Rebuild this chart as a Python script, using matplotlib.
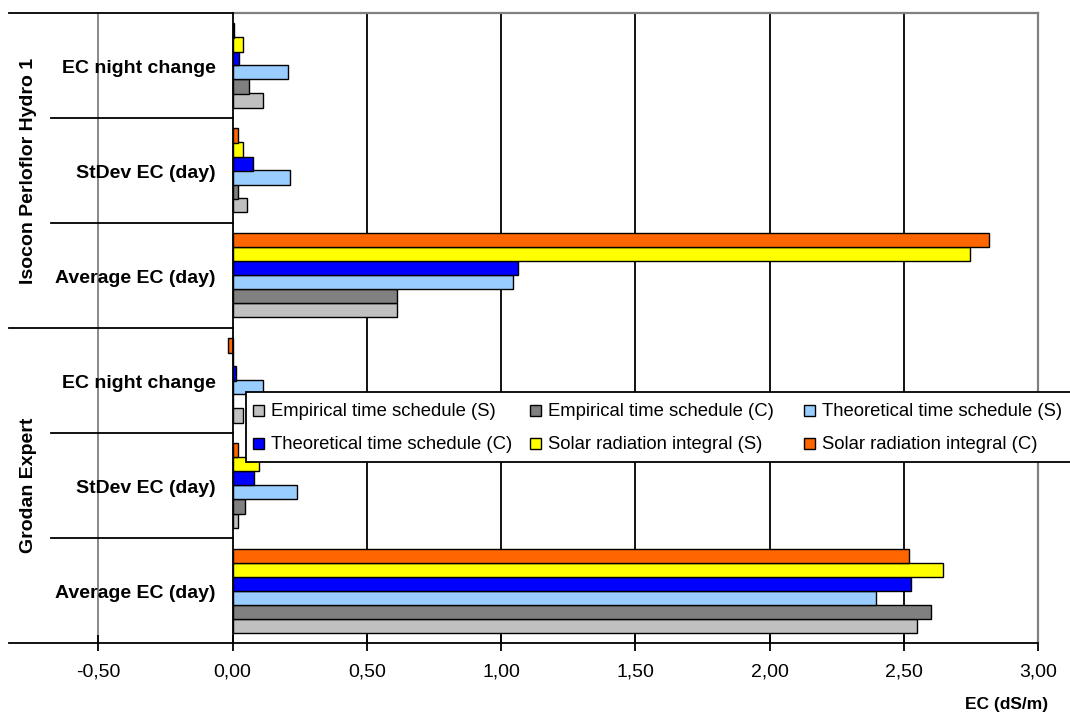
import matplotlib
matplotlib.use("Agg")
import matplotlib.pyplot as plt
from matplotlib.ticker import FuncFormatter
from matplotlib.patches import Rectangle
import numpy as np

plt.rcParams['font.family'] = ['Liberation Sans', 'DejaVu Sans']

# ---------------- data ----------------
groups = ["Isocon Perloflor Hydro 1", "Grodan Expert"]
measures = ["EC night change", "StDev EC (day)", "Average EC (day)"]  # top to bottom in each group

series_names = ["Empirical time schedule (S)", "Empirical time schedule (C)",
                "Theoretical time schedule (S)", "Theoretical time schedule (C)",
                "Solar radiation integral (S)", "Solar radiation integral (C)"]
series_colors = ["#C0C0C0", "#808080", "#99CCFF", "#0000FF", "#FFFF00", "#FF6600"]

# values per category, top to bottom:
# Isocon: night change, StDev, Average ; Grodan: night change, StDev, Average
emp_s   = [0.112, 0.054, 0.614, 0.040, 0.020, 2.548]
emp_c   = [0.060, 0.020, 0.612, 0.000, 0.047, 2.600]
theo_s  = [0.207, 0.212, 1.043, 0.112, 0.239, 2.395]
theo_c  = [0.022, 0.074, 1.063, 0.013, 0.079, 2.528]
solar_s = [0.040, 0.040, 2.745, 0.000, 0.100, 2.646]
solar_c = [0.005, 0.020, 2.819, -0.016, 0.020, 2.520]
series_values = [emp_s, emp_c, theo_s, theo_c, solar_s, solar_c]

xticks = [-0.5, 0.0, 0.5, 1.0, 1.5, 2.0, 2.5, 3.0]
x_label = "EC (dS/m)"

# ---------------- figure ----------------
W, H = 1070, 713
fig = plt.figure(figsize=(W / 100, H / 100), dpi=100)
left_px, right_px, top_px, bot_px = 8.5, 1038, 13, 643
ax = fig.add_axes([left_px / W, 1 - bot_px / H, (right_px - left_px) / W, (bot_px - top_px) / H])

XMIN, XMAX = -0.835, 3.0
ax.set_xlim(XMIN, XMAX)
ax.set_ylim(-0.5, 5.5)

ncat = len(emp_s)
ypos = np.arange(ncat)[::-1]  # first category at top
nser = len(series_values)
bh = 0.8 / nser
for i, (vals, col, name) in enumerate(zip(series_values, series_colors, series_names)):
    offs = -0.4 + bh * (i + 0.5)
    ax.barh(ypos + offs, vals, height=bh, color=col, edgecolor="black",
            linewidth=1.0, zorder=3, label=name)

# gridlines
for xv in xticks:
    if xv == 0.0 or xv == 3.0:
        continue
    ax.axvline(xv, color="#808080" if xv < 0 else "black", lw=1.3, zorder=1)

# frame
for s in ax.spines.values():
    s.set_visible(False)
ax.plot([0, XMAX], [5.5, 5.5], color="#808080", lw=1.6, zorder=2, clip_on=False)
ax.plot([XMAX, XMAX], [-0.5, 5.5], color="#808080", lw=1.6, zorder=2, clip_on=False)
ax.plot([XMIN, 0], [5.5, 5.5], color="black", lw=1.3, zorder=4, clip_on=False)
ax.plot([XMIN, 0], [2.5, 2.5], color="black", lw=1.3, zorder=4, clip_on=False)
ax.plot([XMIN, XMAX], [-0.5, -0.5], color="black", lw=1.3, zorder=4, clip_on=False)
ax.plot([0, 0], [-0.5, 5.5], color="black", lw=1.3, zorder=4, clip_on=False)
sep_x = -0.676
for yb in [0.5, 1.5, 3.5, 4.5]:
    ax.plot([sep_x, 0], [yb, yb], color="black", lw=1.3, zorder=4, clip_on=False)

# category labels
for k in range(ncat):
    ax.text(-0.063, ypos[k] - 0.067, measures[k % 3], ha="right", va="baseline",
            fontsize=14, fontweight="bold", zorder=5)

# group labels
for g, gname in enumerate(groups):
    yc = 4.0 if g == 0 else 1.0
    ax.text(-0.742, yc, gname, rotation=90, rotation_mode="anchor", ha="center",
            va="baseline", fontsize=14, fontweight="bold", zorder=5)

# x ticks
ax.set_yticks([])
ax.set_xticks(xticks)
ax.xaxis.set_major_formatter(FuncFormatter(lambda v, p: f"{v:.2f}".replace(".", ",")))
ax.tick_params(axis="x", direction="inout", length=12, width=1.3, labelsize=14, pad=9)
for t, xv in zip(ax.xaxis.get_major_ticks(), xticks):
    if xv < 0:
        t.tick1line.set_color("#808080")

fig.text(1048 / W, 1 - 709 / H, x_label, ha="right", va="baseline",
         fontsize=12.5, fontweight="bold")

# legend: Excel-style box with equal-width columns, row-major order
leg_left, leg_top, leg_bottom, leg_right = 246, 392, 462, 1085
fig.patches.append(Rectangle((leg_left / W, 1 - leg_bottom / H),
                             (leg_right - leg_left) / W, (leg_bottom - leg_top) / H,
                             transform=fig.transFigure, facecolor="white",
                             edgecolor="black", lw=1.3, zorder=10))
col_x = [253, 530, 804]
row_y = [410, 443]
msize = 11
for i in range(nser):
    r, c = divmod(i, 3)
    mx, my = col_x[c], row_y[r]
    fig.patches.append(Rectangle((mx / W, 1 - (my + msize / 2) / H), msize / W, msize / H,
                                 transform=fig.transFigure, facecolor=series_colors[i],
                                 edgecolor="black", lw=1.0, zorder=11))
    fig.text((mx + 18) / W, 1 - my / H, series_names[i], ha="left", va="center_baseline",
             fontsize=13.3, zorder=12)

fig.savefig("out.png", dpi=100)
